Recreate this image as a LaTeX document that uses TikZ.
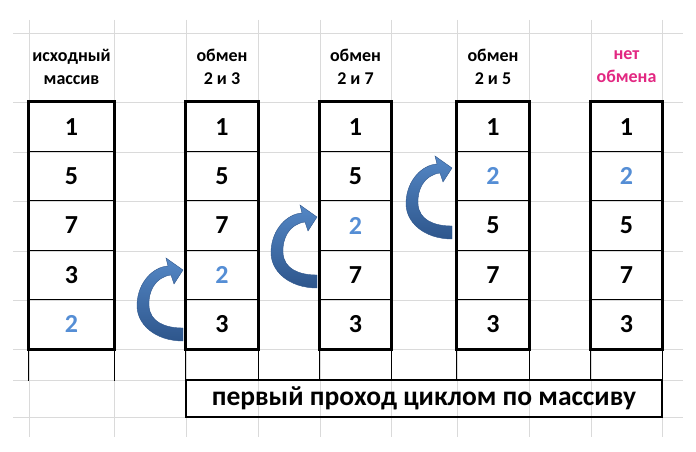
\documentclass[tikz,border=0pt]{standalone}
\usepackage{fontspec}
\setmainfont{Carlito}

\definecolor{gridgray}{RGB}{218,218,218}
\definecolor{digitblue}{RGB}{85,142,213}
\definecolor{headpink}{RGB}{226,40,130}
\definecolor{arrowlight}{RGB}{84,135,197}
\definecolor{arrowdark}{RGB}{46,86,140}

\tikzset{
    cell/.style={draw=black, line width=1.2pt, minimum width=72pt, minimum height=49.4pt,
        inner sep=0pt, font=\fontsize{26}{30}\selectfont\bfseries},
    widecell/.style={cell, minimum width=85pt},
    moved/.style={text=digitblue},
    hdr/.style={align=center, font=\fontsize{18}{23}\selectfont\bfseries},
    colbox/.style={draw=black, line width=2.2pt},
    tailline/.style={draw=black, line width=1.4pt},
    swapfill/.style={top color=arrowlight, bottom color=arrowdark, draw=arrowdark, line width=0.4pt},
}

% curved swap arrow, origin at the tail tip
\newcommand{\swaparrow}[2]{%
    \begin{scope}[shift={(#1,#2)}]
        \path[swapfill] (0,7) .. controls (-28,7) and (-47,-10) .. (-46,-30)
            .. controls (-45,-52) and (-30,-67) .. (-15,-68) -- (-17,-76) -- (0,-64)
            -- (-9,-50) -- (-12,-59) .. controls (-28,-57) and (-35,-42) .. (-34,-28)
            .. controls (-33,-12) and (-18,-6) .. (0,-6) -- cycle;
    \end{scope}}

\begin{document}
\begin{tikzpicture}[x=1pt, y=-1pt]
    \useasboundingbox (0,0) rectangle (696,452);

    % sheet grid
    \draw[gridgray, line width=0.8pt]
        (13,33) -- (683,33) (13,102) -- (683,102) (13,152) -- (683,152)
        (13,201) -- (683,201) (13,251) -- (683,251) (13,300) -- (683,300)
        (13,349) -- (683,349) (13,380) -- (683,380) (13,417) -- (683,417);
    \draw[gridgray, line width=0.8pt]
        (29,20) -- (29,437) (114,20) -- (114,437) (186,20) -- (186,437)
        (258,20) -- (258,437) (320,20) -- (320,437) (391,20) -- (391,437)
        (457,20) -- (457,437) (529,20) -- (529,437) (591,20) -- (591,437)
        (662,20) -- (662,437);

    % headers
    \node[hdr] (h1) at (71.5,67) {исходный\\массив};
    \node[hdr] (h2) at (222,67) {обмен\\2 и 3};
    \node[hdr] (h3) at (355.5,67) {обмен\\2 и 7};
    \node[hdr] (h4) at (493,67) {обмен\\2 и 5};
    \node[hdr, text=headpink] (h5) at (626.5,67) {нет\\обмена};

    % column 1
    \node[widecell] (c11) at (71.5,126.7) {1};
    \node[widecell] (c12) at (71.5,176.1) {5};
    \node[widecell] (c13) at (71.5,225.5) {7};
    \node[widecell] (c14) at (71.5,274.9) {3};
    \node[widecell, moved] (c15) at (71.5,324.3) {2};

    % column 2
    \node[cell] (c21) at (222,126.7) {1};
    \node[cell] (c22) at (222,176.1) {5};
    \node[cell] (c23) at (222,225.5) {7};
    \node[cell, moved] (c24) at (222,274.9) {2};
    \node[cell] (c25) at (222,324.3) {3};

    % column 3
    \node[cell, minimum width=71pt] (c31) at (355.5,126.7) {1};
    \node[cell, minimum width=71pt] (c32) at (355.5,176.1) {5};
    \node[cell, minimum width=71pt, moved] (c33) at (355.5,225.5) {2};
    \node[cell, minimum width=71pt] (c34) at (355.5,274.9) {7};
    \node[cell, minimum width=71pt] (c35) at (355.5,324.3) {3};

    % column 4
    \node[cell] (c41) at (493,126.7) {1};
    \node[cell, moved] (c42) at (493,176.1) {2};
    \node[cell] (c43) at (493,225.5) {5};
    \node[cell] (c44) at (493,274.9) {7};
    \node[cell] (c45) at (493,324.3) {3};

    % column 5
    \node[cell, minimum width=71pt] (c51) at (626.5,126.7) {1};
    \node[cell, minimum width=71pt, moved] (c52) at (626.5,176.1) {2};
    \node[cell, minimum width=71pt] (c53) at (626.5,225.5) {5};
    \node[cell, minimum width=71pt] (c54) at (626.5,274.9) {7};
    \node[cell, minimum width=71pt] (c55) at (626.5,324.3) {3};

    % thick frames and the empty row under them
    \draw[colbox] (c11.north west) rectangle (c15.south east);
    \draw[colbox] (c21.north west) rectangle (c25.south east);
    \draw[colbox] (c31.north west) rectangle (c35.south east);
    \draw[colbox] (c41.north west) rectangle (c45.south east);
    \draw[colbox] (c51.north west) rectangle (c55.south east);
    \draw[tailline] (c15.south west) -- ++(0,31) (c15.south east) -- ++(0,31);
    \draw[tailline] (c25.south west) -- ++(0,31) (c25.south east) -- ++(0,31);
    \draw[tailline] (c35.south west) -- ++(0,31) (c35.south east) -- ++(0,31);
    \draw[tailline] (c45.south west) -- ++(0,31) (c45.south east) -- ++(0,31);
    \draw[tailline] (c55.south west) -- ++(0,31) (c55.south east) -- ++(0,31);

    % caption box
    \node[draw=black, line width=2pt, minimum width=476pt, minimum height=37pt, inner sep=0pt,
        font=\fontsize{27.5}{31}\selectfont\bfseries] (pass) at (424,398.5)
        {первый проход циклом по массиву};

    % swaps
    \swaparrow{183}{334}
    \swaparrow{317}{281}
    \swaparrow{452}{232}
\end{tikzpicture}
\end{document}
